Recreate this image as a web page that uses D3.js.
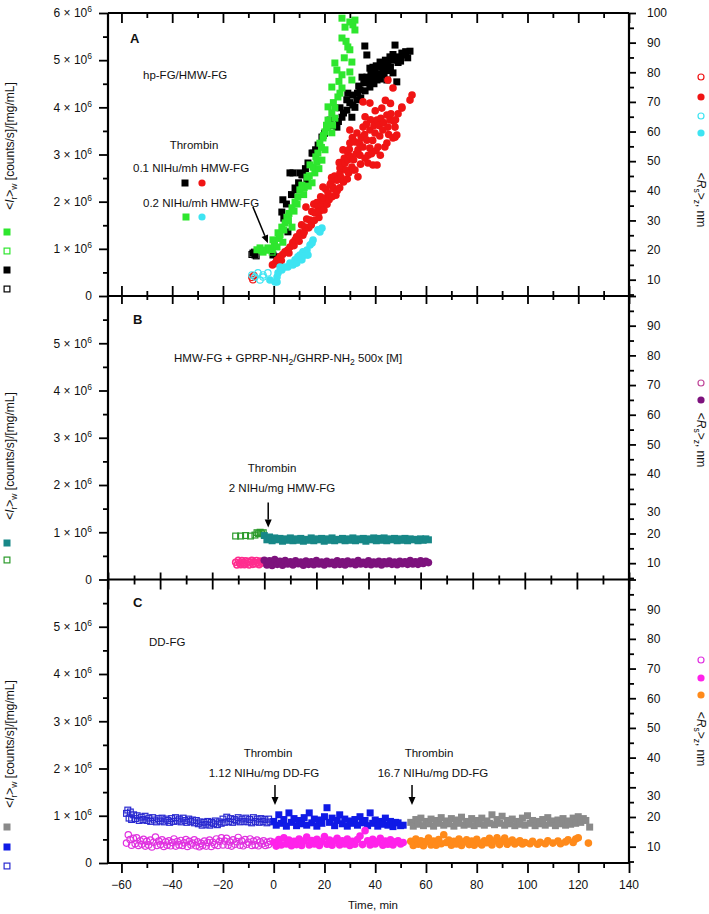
<!DOCTYPE html>
<html><head><meta charset="utf-8">
<script src="https://cdn.jsdelivr.net/npm/d3@7"></script>
<style>
body{margin:0;background:#fff;}
svg text{font-family:"Liberation Sans",Arial,Helvetica,sans-serif;fill:#111;}
</style></head><body>
<svg id="c" width="709" height="914"></svg>
<script>
// ---------------- DATA ----------------
// x ticks (time, min)
const xMajor = [-60,-40,-20,0,20,40,60,80,100,120,140];
const xMinor = [-50,-30,-10,10,30,50,70,90,110,130];
const leftMajor = [0,1,2,3,4,5,6];          // x 10^6
const leftMinor = [0.5,1.5,2.5,3.5,4.5,5.5];
const rightMajor = [10,20,30,40,50,60,70,80,90,100];
const rightMinor = [5,15,25,35,45,55,65,75,85,95];

// Panel A  ([time, <Ir>w x10^6] or [time, Rs nm])
const aBlackOpen = [[-8.6,0.88],[-7.6,0.93],[-6.9,0.85]];
const aBlack = [[-8.2,0.91],[-7.4,0.87],[-0.3,0.87],[1.3,0.83],
[3.2,1.78],[3.6,2.04],[4.0,1.65],[5.0,1.95],[5.6,1.36],[6.4,2.61],[7.0,2.15],[7.6,2.61],[8.4,2.29],[9.1,2.25],[9.8,2.40],[10.3,2.61],[11.1,2.57],[11.5,2.57],[12.5,2.70],[13.1,2.42],[13.5,2.82],[15.1,3.03],[15.5,3.03],[16.5,3.10],[17.5,3.20],[19.0,3.37],[20.0,3.45],[21.0,3.58],[22.2,3.73],[23.5,3.62],[24.9,3.58],[25.5,3.70],[26.1,3.99],[26.9,3.79],[27.5,3.88],[28.8,3.94],[28.8,4.16],[29.2,4.30],[30.0,4.10],[30.8,3.79],[31.2,4.05],[31.2,4.26],[32.0,4.00],[32.8,4.16],[33.0,4.30],[33.5,4.45],[34.0,4.37],[34.3,4.20],[34.8,4.64],[35.5,4.52],[35.9,5.30],[36.0,4.35],[36.7,5.11],[36.7,4.64],[37.0,4.55],[37.9,4.43],[37.9,4.83],[38.3,4.70],[38.8,4.62],[39.1,4.85],[39.5,4.50],[40.0,4.75],[40.4,4.88],[40.7,4.58],[41.0,4.70],[41.9,4.96],[42.0,4.60],[42.5,4.85],[43.0,4.79],[43.5,4.70],[43.8,4.90],[44.0,5.00],[44.6,4.58],[45.0,4.94],[45.5,4.78],[45.8,5.07],[46.0,4.85],[46.5,5.00],[47.0,4.73],[47.0,5.12],[47.8,5.32],[48.5,4.54],[48.5,5.07],[49.0,4.95],[49.5,5.05],[50.0,4.98],[50.5,5.15],[51.7,5.11],[52.0,5.18],[52.8,5.05],[53.7,5.19]];
const aGreenOpen = [[-4.8,0.97],[-0.6,0.93]];
const aGreen = [[-6.6,0.98],[-5.4,1.02],[-4.2,0.93],[-3.2,0.97],[-2.3,1.02],[-1.5,1.00],[-0.7,0.98],[0.3,1.08],[1.3,1.04],[-0.3,1.19],[1.7,1.34],[2.2,1.22],[3.6,1.14],[2.5,1.30],[3.2,1.46],[4.0,1.40],[4.5,1.55],[5.2,1.67],[5.8,1.60],[6.0,1.75],[7.2,1.46],[7.2,1.87],[8.0,1.80],[8.4,1.99],[9.2,1.95],[9.5,2.10],[10.3,2.25],[11.1,2.35],[11.8,2.15],[12.0,2.30],[13.1,2.52],[13.6,2.33],[14.0,2.55],[15.1,2.40],[14.3,2.78],[15.5,2.73],[16.2,2.61],[16.6,2.95],[17.0,2.84],[17.8,2.70],[17.4,3.03],[18.2,3.24],[18.8,3.15],[19.0,2.88],[19.4,3.35],[19.6,3.40],[20.2,3.10],[20.2,3.48],[20.8,3.62],[21.0,3.58],[21.4,3.73],[21.4,4.01],[22.9,3.88],[22.9,3.46],[23.2,3.62],[22.9,4.43],[23.5,4.10],[24.1,3.99],[24.1,3.77],[24.1,4.94],[24.9,4.79],[25.3,4.22],[25.7,4.55],[26.1,4.30],[26.9,4.41],[26.9,4.69],[26.9,5.47],[26.9,5.89],[27.8,5.05],[28.1,5.70],[28.5,5.40],[29.2,5.28],[30.0,5.22],[30.0,4.75],[30.0,5.81],[30.8,4.58],[30.8,4.96],[31.2,5.75],[32.0,5.85],[32.0,5.64]];
const aRedOpen = [[-8.6,10.8],[-7.8,11.4],[-8.2,10.0]];
const aRed = [[-0.5,15.0],[0.5,15.5],[1.3,16.6],[2.0,17.0],[2.5,17.7],[3.0,16.5],[3.5,18.5],[4.4,19.4],[5.5,20.0],[6.0,19.0],[6.4,21.0],[7.5,22.5],[8.0,21.5],[8.4,23.4],[9.0,24.5],[10.0,23.0],[10.3,25.8],[11.0,28.5],[11.5,25.0],[12.0,26.0],[12.3,27.8],[12.7,34.5],[13.0,30.5],[13.8,27.5],[14.3,30.1],[14.8,28.5],[15.0,33.0],[15.8,35.5],[16.0,30.0],[16.2,32.5],[17.0,36.0],[17.4,34.5],[17.8,31.0],[18.0,33.0],[18.5,38.0],[18.8,35.0],[19.4,36.9],[19.4,41.3],[19.8,33.5],[20.0,37.5],[20.5,40.5],[21.0,35.5],[21.4,39.3],[21.8,37.0],[22.2,42.0],[22.5,42.5],[22.8,44.5],[23.0,38.0],[23.3,41.3],[23.8,40.5],[24.0,45.0],[24.5,38.5],[24.9,43.6],[25.0,40.0],[25.5,44.0],[25.8,49.5],[26.0,41.0],[26.1,46.0],[26.1,47.7],[26.6,44.5],[27.0,48.5],[27.3,53.8],[27.5,43.0],[27.8,51.0],[28.1,49.4],[28.5,47.0],[29.0,44.0],[29.2,52.8],[29.2,50.4],[29.5,46.0],[29.8,54.0],[30.0,56.1],[30.0,60.5],[30.5,51.5],[30.8,48.0],[31.0,58.0],[31.2,47.0],[31.5,50.5],[32.0,47.0],[32.0,56.5],[32.5,52.5],[32.8,59.5],[33.2,53.8],[33.2,44.7],[33.8,56.0],[34.0,52.0],[34.2,49.0],[34.5,58.0],[35.2,61.5],[35.2,70.0],[35.2,54.8],[35.8,59.0],[36.0,51.0],[36.0,65.0],[36.5,62.5],[36.7,57.1],[37.1,49.4],[37.2,52.0],[37.9,69.6],[37.9,54.4],[37.9,60.5],[38.2,64.0],[38.5,52.5],[39.0,57.0],[39.1,48.7],[39.5,62.0],[39.9,59.5],[40.0,67.0],[40.3,53.5],[40.7,63.9],[40.7,48.7],[41.1,54.8],[41.5,62.0],[41.8,58.5],[42.0,52.0],[42.2,64.5],[42.6,67.9],[43.0,60.5],[43.3,63.0],[43.8,54.8],[44.0,70.5],[44.6,65.6],[44.6,56.1],[45.0,77.4],[45.0,61.5],[45.3,59.0],[45.8,63.9],[46.0,69.5],[46.2,66.0],[47.0,74.7],[47.0,57.8],[47.3,63.5],[47.8,61.5],[47.8,58.1],[48.0,64.0],[48.5,58.8],[49.0,66.0],[50.5,67.9],[50.5,68.3],[53.7,70.6],[54.5,72.3]];
const aCyanOpen = [[-8.6,11.6],[-7.4,10.9],[-6.2,12.3],[-5.4,9.9],[-4.2,10.9],[-4.2,11.6],[-2.3,12.3]];
const aCyan = [[-1.5,9.9],[0.5,9.2],[1.3,9.2],[1.3,10.9],[1.7,12.3],[2.5,14.3],[3.2,13.3],[4.4,14.3],[5.6,14.3],[6.4,15.6],[7.6,15.0],[8.4,16.7],[9.1,15.6],[9.5,17.7],[10.3,18.3],[11.1,16.7],[11.5,19.4],[12.3,18.3],[13.1,20.0],[13.5,18.3],[14.3,21.7],[15.1,22.4],[15.5,23.4],[17.4,26.8],[18.2,26.1],[19.0,27.4]];

// Panel B
const bGreenOpen = [[-11,0.92],[-9.1,0.92],[-7.2,0.93],[-5.3,0.92],[-3.6,0.94],[-2.8,0.99],[-2.2,0.97],[-1.6,1.0],[-1.0,0.97],[-0.4,0.99]];
const bTeal = [[0,0.93],[1,0.84],[2,0.90],[3,0.82],[4,0.88],[5,0.84],[6,0.87],[7,0.81],[8,0.86],[9,0.83],[10,0.88],[11,0.82],[12,0.86],[13,0.83],[14,0.87],[15,0.81],[16,0.85],[17,0.83],[18,0.88],[19,0.82],[20,0.86],[21,0.84],[22,0.87],[23,0.81],[24,0.86],[25,0.83],[26,0.88],[27,0.82],[28,0.85],[29,0.84],[30,0.87],[31,0.82],[32,0.86],[33,0.83],[34,0.88],[35,0.82],[36,0.86],[37,0.84],[38,0.87],[39,0.81],[40,0.86],[41,0.84],[42,0.88],[43,0.82],[44,0.87],[45,0.83],[46,0.88],[47,0.82],[48,0.86],[49,0.84],[50,0.87],[51,0.82],[52,0.86],[53,0.83],[54,0.87],[55,0.82],[56,0.86],[57,0.84],[58,0.85],[59,0.82],[60,0.86],[61,0.83],[62,0.86],[63,0.84]];
const bPinkOpen = [[-11,10.3],[-10.5,9.4],[-10.0,11.0],[-9.6,10.0],[-9.0,9.5],[-8.6,10.9],[-8.2,10.1],[-7.6,9.5],[-7.2,10.8],[-6.8,9.9],[-6.2,10.6],[-5.8,9.4],[-5.4,10.4],[-4.8,11.0],[-4.4,9.6],[-4.0,10.5],[-3.4,9.8],[-3.0,10.9],[-2.6,10.1],[-2.0,9.5],[-1.6,10.7],[-1.2,10.0],[-0.6,10.5]];
const bPurple = [[0,11.0],[1,9.4],[2,10.8],[3,9.2],[4,11.2],[5,9.6],[6,10.6],[7,9.3],[8,10.9],[9,9.7],[10,10.5],[11,9.4],[12,10.8],[13,9.8],[14,10.4],[15,9.3],[16,10.7],[17,9.6],[18,10.5],[19,9.5],[20,10.9],[21,9.7],[22,10.4],[23,9.4],[24,10.6],[25,9.8],[26,10.3],[27,9.5],[28,10.8],[29,9.6],[30,10.5],[31,9.4],[32,10.7],[33,9.8],[34,10.4],[35,9.5],[36,10.9],[37,9.7],[38,10.3],[39,9.6],[40,10.8],[41,9.5],[42,10.4],[43,9.7],[44,10.6],[45,9.4],[46,10.5],[47,9.8],[48,10.7],[49,9.6],[50,10.4],[51,9.5],[52,10.6],[53,9.8],[54,10.5],[55,9.6],[56,10.9],[57,9.7],[58,10.5],[59,9.6],[60,10.8],[61,9.9],[62,10.6],[63,10.2]];

// Panel C
const cBlueOpen = [[-58,1.05],[-57.5,1.12],[-57,0.95],[-56.5,1.08],[-56,0.92],[-55.2,1.02],[-54.5,0.94],[-53.8,1.00],[-53,0.90],[-52.2,0.97],[-51.5,0.92],[-50.7,0.99],[-50,0.90],[-49.2,0.95],[-48.5,0.88],[-47.7,0.96],[-47,0.91],[-46.2,0.87],[-45.5,0.94],[-44.7,0.89],[-44,0.95],[-43.2,0.87],[-42.5,0.93],[-41.7,0.90],[-41,0.86],[-40.2,0.94],[-39.5,0.88],[-38.7,0.96],[-38,0.89],[-37.2,0.93],[-36.5,0.87],[-35.7,0.95],[-35,0.90],[-34.2,0.86],[-33.5,0.93],[-32.7,0.88],[-32,0.91],[-31.2,0.85],[-30.5,0.90],[-29.7,0.83],[-29,0.87],[-28.2,0.80],[-27.5,0.86],[-26.7,0.82],[-26,0.88],[-25.2,0.80],[-24.5,0.86],[-23.7,0.83],[-23,0.89],[-22.2,0.81],[-21.5,0.87],[-20.7,0.84],[-20,0.93],[-19.2,0.86],[-18.5,0.97],[-17.7,0.88],[-17,0.94],[-16.2,0.86],[-15.5,0.92],[-14.7,0.89],[-14,0.96],[-13.2,0.87],[-12.5,0.93],[-11.7,0.88],[-11,0.95],[-10.2,0.87],[-9.5,0.92],[-8.7,0.85],[-8,0.96],[-7.2,0.88],[-6.5,0.93],[-5.7,0.86],[-5,0.94],[-4.2,0.88],[-3.5,0.92],[-2.7,0.85],[-2,0.93],[-1.2,0.87]];
const cBlue = [[0,0.88],[1,0.80],[2,1.02],[3,0.84],[4,0.92],[5,0.78],[6,1.06],[7,0.86],[8,0.94],[9,0.79],[10,0.90],[11,0.83],[12,0.96],[13,0.80],[14,1.06],[15,0.85],[16,0.93],[17,0.78],[18,0.91],[19,0.84],[20,0.98],[21,1.17],[22,0.86],[23,0.95],[24,0.79],[25,0.90],[26,1.02],[27,0.83],[28,0.93],[29,0.78],[30,0.89],[31,0.84],[32,0.92],[33,0.80],[34,0.98],[35,0.85],[36,0.90],[37,0.79],[38,1.06],[39,0.84],[40,0.91],[41,0.78],[42,0.88],[43,0.82],[44,0.95],[45,0.80],[46,0.88],[47,0.77],[48,0.86],[49,0.85],[50,0.79],[51,0.80]];
const cGray = [[54,0.86],[55,0.78],[56,0.92],[57,0.82],[58,0.95],[59,0.79],[60,0.88],[61,0.83],[62,0.93],[63,0.78],[64,0.90],[65,0.84],[66,0.96],[67,0.80],[68,0.89],[69,0.83],[70,0.94],[71,0.78],[72,0.91],[73,0.84],[74,0.97],[75,0.80],[76,0.88],[77,0.82],[78,0.94],[79,0.79],[80,0.90],[81,0.83],[82,0.95],[83,0.80],[84,0.89],[85,0.84],[86,1.02],[87,0.81],[88,0.92],[89,0.84],[90,0.99],[91,0.80],[92,0.90],[93,0.83],[94,0.93],[95,0.79],[96,0.88],[97,0.82],[98,0.95],[99,0.80],[100,1.00],[101,0.84],[102,0.90],[103,0.79],[104,0.88],[105,0.83],[106,0.92],[107,0.80],[108,0.96],[109,0.84],[110,0.89],[111,0.79],[112,0.91],[113,0.83],[114,0.94],[115,0.80],[116,0.89],[117,0.82],[118,0.95],[119,0.84],[120,0.98],[121,0.86],[122,0.94],[123,0.90],[124.5,0.76]];
const cMagentaOpen = [[-58,11.2],[-57.3,14.0],[-56.6,12.4],[-56,10.5],[-55.3,12.8],[-54.6,11.0],[-54,13.0],[-53.3,10.4],[-52.6,12.0],[-52,10.8],[-51.3,12.5],[-50.6,10.2],[-50,11.8],[-49.3,10.6],[-48.6,12.2],[-48,9.9],[-47.3,11.5],[-46.6,13.2],[-46,10.4],[-45.3,11.9],[-44.6,10.7],[-44,12.3],[-43.3,10.1],[-42.6,11.6],[-42,10.5],[-41.3,12.0],[-40.6,10.3],[-40,11.4],[-39.3,12.6],[-38.6,10.2],[-38,11.7],[-37.3,10.6],[-36.6,12.1],[-36,10.4],[-35.3,11.3],[-34.6,12.4],[-34,10.1],[-33.3,11.8],[-32.6,10.6],[-32,11.2],[-31.3,12.3],[-30.6,10.3],[-30,11.6],[-29.3,10.0],[-28.6,11.1],[-28,10.4],[-27.3,11.9],[-26.6,10.2],[-26,11.4],[-25.3,12.2],[-24.6,10.1],[-24,11.5],[-23.3,10.7],[-22.6,12.6],[-22,10.4],[-21.3,11.8],[-20.6,13.0],[-20,10.6],[-19.3,11.9],[-18.6,12.8],[-18,10.5],[-17.3,11.6],[-16.6,10.2],[-16,12.3],[-15.3,10.8],[-14.6,11.7],[-14,13.1],[-13.3,10.5],[-12.6,11.9],[-12,10.3],[-11.3,12.4],[-10.6,10.8],[-10,11.5],[-9.3,12.6],[-8.6,10.4],[-8,11.9],[-7.3,10.6],[-6.6,12.2],[-6,10.3],[-5.3,11.6],[-4.6,10.9],[-4,12.0],[-3.3,10.4],[-2.6,11.5],[-2,10.7],[-1.3,11.8]];
const cMagenta = [[0,11.5],[1,10.2],[2,12.4],[3,10.6],[4,13.0],[5,10.9],[6,12.2],[7,10.3],[8,11.8],[9,10.7],[10,12.6],[11,10.4],[12,11.9],[13,13.2],[14,10.6],[15,12.1],[16,10.9],[17,12.5],[18,10.4],[19,11.8],[20,13.4],[21,10.8],[22,12.2],[23,10.5],[24,11.9],[25,12.8],[26,10.6],[27,12.0],[28,10.9],[29,12.6],[30,10.4],[31,11.8],[32,10.8],[33,12.4],[34,13.6],[35,10.7],[36,15.4],[37,12.0],[38,10.6],[39,12.5],[40,10.9],[41,11.7],[42,12.8],[43,10.5],[44,11.9],[45,10.8],[46,12.3],[47,10.6],[48,11.6],[49,12.0],[50,10.9],[51,11.4]];
const cOrange = [[54,11.8],[55,10.4],[56,12.6],[57,10.8],[58,12.0],[59,10.3],[60,11.7],[61,12.9],[62,10.6],[63,11.9],[64,10.5],[65,12.4],[66,11.0],[67,14.0],[68,11.4],[69,12.2],[70,10.5],[71,11.8],[72,10.9],[73,12.6],[74,10.4],[75,11.6],[76,12.3],[77,10.7],[78,11.9],[79,10.5],[80,12.5],[81,11.2],[82,10.6],[83,12.0],[84,11.3],[85,12.8],[86,10.6],[87,11.9],[88,13.0],[89,10.7],[90,11.8],[91,12.9],[92,10.8],[93,11.6],[94,12.2],[95,10.9],[96,11.5],[97,12.0],[98,10.9],[99,11.4],[101,11.0],[102,11.8],[104,10.8],[105,11.5],[107,11.0],[108,12.0],[110,11.2],[112,11.9],[113,11.0],[115,11.6],[116,12.3],[118,11.4],[119,12.6],[120,13.0],[124,11.2]];

// ---------------- COLORS ----------------
const COL = {green:'#2ee62e', black:'#000', red:'#f01414', cyan:'#3ee4f2',
  teal:'#178787', dkgreen:'#2b9a2b', pink:'#ff2d8f', purple:'#7d127d',
  blue:'#0f1ae6', blueOpen:'#2a2ad0', gray:'#8a8a8a', magenta:'#ff22ea', magOpen:'#e032e0', orange:'#ff8a1a'};

// ---------------- SCALES ----------------
const L = 108, R = 629;
const xAC = d3.scaleLinear().domain([-65.3, 140]).range([L, R]);
const xB  = d3.scaleLinear().domain([-60, 140]).range([L, R]);
const P = {
  A:{top:13, bot:296, x:xAC},
  B:{top:296, bot:579.5, x:xB},
  C:{top:579.5, bot:863, x:xAC}
};
for (const k in P) {
  P[k].yL = d3.scaleLinear().domain([0,6]).range([P[k].bot, P[k].top]);
  P[k].yR = d3.scaleLinear().domain([4.5,100]).range([P[k].bot, P[k].top]);
}

const svg = d3.select('#c');
const TW = 1.8;

function styleAxis(g){ g.select('.domain').remove(); g.selectAll('.tick line').attr('stroke','#000').attr('stroke-width',TW); g.selectAll('.tick text').remove(); }

// ---------------- MARKS ----------------
const gm = svg.append('g');
function sq(data, x, y, color, open, s=7){
  gm.append('g').selectAll('rect').data(data).join('rect')
    .attr('x', d=>x(d[0])-s/2+(open?0.6:0)).attr('y', d=>y(d[1])-s/2+(open?0.6:0))
    .attr('width', open?s-1.2:s).attr('height', open?s-1.2:s)
    .attr('fill', open?'none':color).attr('stroke', open?color:'none').attr('stroke-width', open?1.2:0);
}
function ci(data, x, y, color, open, r=3.8, sw=1.2){
  gm.append('g').selectAll('circle').data(data).join('circle')
    .attr('cx', d=>x(d[0])).attr('cy', d=>y(d[1])).attr('r', open?r-sw/2:r)
    .attr('fill', open?'none':color).attr('stroke', open?color:'none').attr('stroke-width', open?sw:0);
}
// A
sq(aBlack, P.A.x, P.A.yL, COL.black, false);
sq(aBlackOpen, P.A.x, P.A.yL, COL.black, true);
sq(aGreen, P.A.x, P.A.yL, COL.green, false);
sq(aGreenOpen, P.A.x, P.A.yL, COL.green, true);
ci(aRedOpen, P.A.x, P.A.yR, COL.red, true);
ci(aRed, P.A.x, P.A.yR, COL.red, false);
ci(aCyanOpen, P.A.x, P.A.yR, COL.cyan, true);
ci(aCyan, P.A.x, P.A.yR, COL.cyan, false);
// B
sq(bGreenOpen, P.B.x, P.B.yL, COL.dkgreen, true);
sq(bTeal, P.B.x, P.B.yL, COL.teal, false);
ci(bPinkOpen, P.B.x, P.B.yR, COL.pink, true, 3.8, 1.6);
ci(bPurple, P.B.x, P.B.yR, COL.purple, false);
// C
sq(cBlueOpen, P.C.x, P.C.yL, COL.blueOpen, true);
sq(cBlue, P.C.x, P.C.yL, COL.blue, false);
sq(cGray, P.C.x, P.C.yL, COL.gray, false);
ci(cMagentaOpen, P.C.x, P.C.yR, COL.magOpen, true);
ci(cMagenta, P.C.x, P.C.yR, COL.magenta, false);
ci(cOrange, P.C.x, P.C.yR, COL.orange, false);

// ---------------- FRAME & AXES ----------------
const ga = svg.append('g');
[P.A.top, P.A.bot, P.B.bot, P.C.bot].forEach(y=>ga.append('line').attr('x1',L).attr('x2',R).attr('y1',y).attr('y2',y).attr('stroke','#000').attr('stroke-width',2.2));
[L,R].forEach(x=>ga.append('line').attr('x1',x).attr('x2',x).attr('y1',P.A.top).attr('y2',P.C.bot).attr('stroke','#000').attr('stroke-width',2.2));

function xAxis(scale, y, dir, maj, min){
  if (dir==='down'||dir==='both'){
    ga.append('g').attr('transform',`translate(0,${y})`).call(d3.axisBottom(scale).tickValues(xMajor).tickSize(dir==='both'?maj[1]:maj[0])).call(styleAxis);
    ga.append('g').attr('transform',`translate(0,${y})`).call(d3.axisBottom(scale).tickValues(xMinor).tickSize(dir==='both'?min[1]:min[0])).call(styleAxis);
  }
  if (dir==='up'||dir==='both'){
    ga.append('g').attr('transform',`translate(0,${y})`).call(d3.axisTop(scale).tickValues(xMajor).tickSize(maj[0])).call(styleAxis);
    ga.append('g').attr('transform',`translate(0,${y})`).call(d3.axisTop(scale).tickValues(xMinor).tickSize(min[0])).call(styleAxis);
  }
}
xAxis(xAC, P.A.top, 'down', [10], [5]);
xAxis(xAC, P.A.bot, 'both', [10,8], [5,4]);
xAxis(xB,  P.B.bot, 'both', [7,10], [4,5]);
xAxis(xAC, P.C.bot, 'down', [10], [5]);

for (const k of ['A','B','C']) {
  const p = P[k];
  const lm = k==='A' ? leftMajor : leftMajor.filter(v=>v<6);
  ga.append('g').attr('transform',`translate(${L},0)`).call(d3.axisLeft(p.yL).tickValues(lm).tickSize(9)).call(styleAxis);
  ga.append('g').attr('transform',`translate(${L},0)`).call(d3.axisLeft(p.yL).tickValues(leftMinor).tickSize(5)).call(styleAxis);
  ga.append('g').attr('transform',`translate(${R},0)`).call(d3.axisRight(p.yR).tickValues(rightMajor).tickSize(7)).call(styleAxis);
  ga.append('g').attr('transform',`translate(${R},0)`).call(d3.axisRight(p.yR).tickValues(rightMinor).tickSize(5)).call(styleAxis);

  // left labels
  lm.forEach(v=>{
    const t = svg.append('text').attr('x',92).attr('y',p.yL(v)).attr('dy','0.36em').attr('text-anchor','end').attr('font-size',12);
    if (v===0) t.text('0');
    else { t.append('tspan').text(v+' \u00d7 10'); t.append('tspan').attr('font-size',8.5).attr('dy',-5).text('6'); }
  });
  // right labels
  const rl = k==='A' ? rightMajor : rightMajor.filter(v=>v<100);
  rl.forEach(v=>{
    svg.append('text').attr('x',R+18).attr('y',p.yR(v)+(k!=='A'&&v===30?8:0)).attr('dy','0.36em').attr('font-size',12).text(v);
  });
}
// x tick labels
xMajor.forEach(v=>svg.append('text').attr('x',xAC(v)).attr('y',889).attr('text-anchor','middle').attr('font-size',12).text(v<0?'\u2212'+(-v):v));
svg.append('text').attr('x',373).attr('y',909).attr('text-anchor','middle').attr('font-size',11.5).text('Time, min');

// ---------------- SIDE TITLES & LEGEND SYMBOLS ----------------
function leftTitle(cy){
  const t = svg.append('text').attr('transform',`translate(14,${cy}) rotate(-90)`).attr('text-anchor','middle').attr('font-size',12);
  t.append('tspan').text('<');
  t.append('tspan').attr('font-style','italic').text('I');
  t.append('tspan').attr('font-size',8.5).attr('dy',3).text('r');
  t.append('tspan').attr('dy',-3).text('>');
  t.append('tspan').attr('font-size',8.5).attr('dy',3).text('w');
  t.append('tspan').attr('dy',-3).text(' [counts/s]/[mg/mL]');
}
function rightTitle(cy){
  const t = svg.append('text').attr('transform',`translate(697,${cy}) rotate(90)`).attr('text-anchor','middle').attr('font-size',12);
  t.append('tspan').text('<');
  t.append('tspan').attr('font-style','italic').text('R');
  t.append('tspan').attr('font-size',8.5).attr('dy',3).text('s');
  t.append('tspan').attr('dy',-3).text('>');
  t.append('tspan').attr('font-size',8.5).attr('dy',3).text('z');
  t.append('tspan').attr('dy',-3).text(', nm');
}
leftTitle(146); leftTitle(456); leftTitle(744);
rightTitle(200); rightTitle(440); rightTitle(739);

function lsq(x,y,color,open){ svg.append('rect').attr('x',x-3.5+(open?0.6:0)).attr('y',y-3.5+(open?0.6:0)).attr('width',open?5.8:7).attr('height',open?5.8:7).attr('fill',open?'none':color).attr('stroke',open?color:'none').attr('stroke-width',1.2); }
function lci(x,y,color,open){ svg.append('circle').attr('cx',x).attr('cy',y).attr('r',open?3:3.6).attr('fill',open?'none':color).attr('stroke',open?color:'none').attr('stroke-width',1.2); }
// panel A side legends
lsq(7,232,COL.green,false); lsq(7,251,COL.green,true); lsq(7,270,COL.black,false); lsq(7,289,COL.black,true);
lci(701,77,COL.red,true); lci(701,97,COL.red,false); lci(701,116,COL.cyan,true); lci(701,133,COL.cyan,false);
// panel B
lsq(7,543,COL.teal,false); lsq(7,560,COL.dkgreen,true);
lci(701,383,'#c0489a',true); lci(701,400,COL.purple,false);
// panel C
lsq(7,827,COL.gray,false); lsq(7,847,COL.blue,false); lsq(7,866,COL.blueOpen,true);
lci(701,660,COL.magOpen,true); lci(701,678,COL.magenta,false); lci(701,695,COL.orange,false);

// ---------------- ANNOTATIONS ----------------
function txt(x,y,s,opt={}){ const t=svg.append('text').attr('x',x).attr('y',y).attr('font-size',opt.size||11.5).attr('text-anchor',opt.anchor||'start'); if(opt.bold) t.attr('font-weight','bold'); t.text(s); return t; }
txt(130,43,'A',{bold:true,size:13});
txt(143,79,'hp-FG/HMW-FG');
txt(194,149,'Thrombin',{anchor:'middle'});
txt(133,172,'0.1 NIHu/mh HMW-FG');
lsq(185,183,COL.black,false); lci(202,183,COL.red,false);
txt(143,207,'0.2 NIHu/mh HMW-FG');
lsq(186,217,COL.green,false); lci(202,217,COL.cyan,false);

txt(133,324,'B',{bold:true,size:13});
const tb = txt(174,362,'');
tb.append('tspan').text('HMW-FG + GPRP-NH');
tb.append('tspan').attr('font-size',8.5).attr('dy',3).text('2');
tb.append('tspan').attr('dy',-3).text('/GHRP-NH');
tb.append('tspan').attr('font-size',8.5).attr('dy',3).text('2');
tb.append('tspan').attr('dy',-3).text(' 500x [M]');
txt(272,472,'Thrombin',{anchor:'middle'});
txt(282,492,'2 NIHu/mg HMW-FG',{anchor:'middle'});

txt(133,607,'C',{bold:true,size:13});
txt(149,646,'DD-FG');
txt(268,757,'Thrombin',{anchor:'middle'});
txt(264,777,'1.12 NIHu/mg DD-FG',{anchor:'middle'});
txt(429,757,'Thrombin',{anchor:'middle'});
txt(433,777,'16.7 NIHu/mg DD-FG',{anchor:'middle'});

function arrow(x1,y1,x2,y2){
  const a = Math.atan2(y2-y1,x2-x1), hl=8, hw=3.5;
  const bx = x2-hl*Math.cos(a), by = y2-hl*Math.sin(a);
  svg.append('line').attr('x1',x1).attr('y1',y1).attr('x2',bx).attr('y2',by).attr('stroke','#000').attr('stroke-width',1.5);
  svg.append('path').attr('d',`M${x2},${y2}L${bx+hw*Math.sin(a)},${by-hw*Math.cos(a)}L${bx-hw*Math.sin(a)},${by+hw*Math.cos(a)}Z`).attr('fill','#000');
}
arrow(xAC(-8.2), P.A.yL(1.89), xAC(-2.3), P.A.yL(1.12));
arrow(xB(1.5), P.B.yL(1.63), xB(1.5), P.B.yL(1.10));
arrow(xAC(0.5), P.C.yL(1.65), xAC(0.5), P.C.yL(1.23));
arrow(xAC(54.5), P.C.yL(1.65), xAC(54.5), P.C.yL(1.23));
</script>
</body></html>
